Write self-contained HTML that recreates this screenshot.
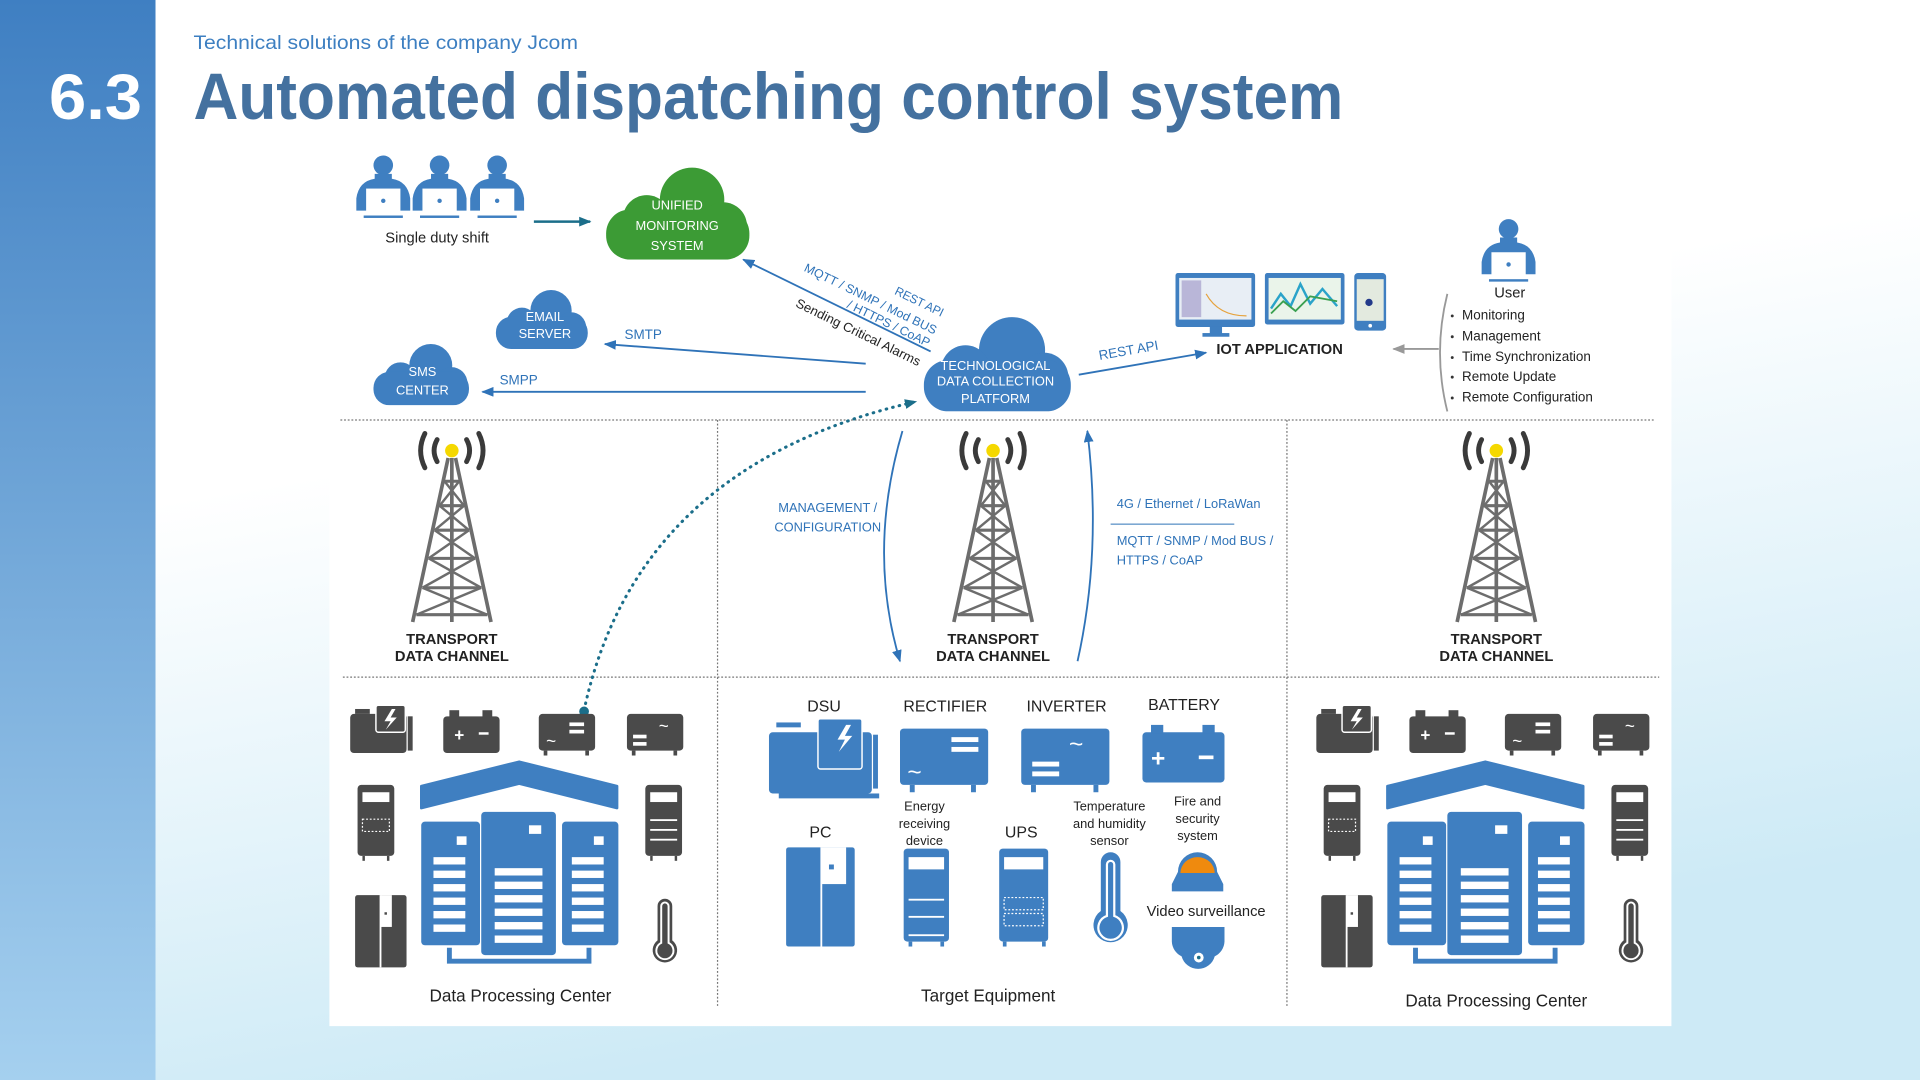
<!DOCTYPE html>
<html><head><meta charset="utf-8"><style>
html,body{margin:0;padding:0;width:1920px;height:1080px;overflow:hidden;background:#fff}
svg{display:block}
text{font-family:"Liberation Sans",sans-serif}
</style></head><body>
<svg width="1920" height="1080" viewBox="0 0 1568 882" xmlns="http://www.w3.org/2000/svg">
<defs>
<linearGradient id="bg" x1="0" y1="0" x2="0.3" y2="1">
<stop offset="0" stop-color="#ffffff"/><stop offset="0.45" stop-color="#ffffff"/><stop offset="1" stop-color="#cdeaf6"/></linearGradient>
<linearGradient id="strip" x1="0" y1="0" x2="0" y2="1">
<stop offset="0" stop-color="#3f7fc2"/><stop offset="1" stop-color="#a5d0ef"/></linearGradient>
<marker id="ab" markerWidth="10" markerHeight="8" refX="9" refY="4" orient="auto" markerUnits="userSpaceOnUse"><path d="M0,0 L10,4 L0,8 Z" fill="#2f73b8"/></marker>
<marker id="at" markerWidth="10" markerHeight="8" refX="9" refY="4" orient="auto" markerUnits="userSpaceOnUse"><path d="M0,0 L10,4 L0,8 Z" fill="#1b6e8a"/></marker>
<marker id="ag" markerWidth="10" markerHeight="8" refX="9" refY="4" orient="auto" markerUnits="userSpaceOnUse"><path d="M0,0 L10,4 L0,8 Z" fill="#999"/></marker>
<symbol id="cloud" viewBox="0 0 120 80">
<circle cx="72" cy="30" r="27"/><circle cx="34" cy="46" r="20"/><circle cx="98" cy="52" r="20"/><rect x="0" y="38" width="120" height="42" rx="20"/>
</symbol>
<g id="tower">
<g stroke="#6d6d6d" stroke-width="3" fill="none">
<path d="M-3,6 L-32,140 M3,6 L32,140 M0,6 L0,140"/>
<path d="M-6,25 L6,25 M-10,45 L10,45 M-14,65 L14,65 M-19,88 L19,88 M-24,112 L24,112 M-29,134 L29,134" stroke-width="2.5"/>
<path d="M-6,25 L10,45 M6,25 L-10,45 M-10,45 L14,65 M10,45 L-14,65 M-14,65 L19,88 M14,65 L-19,88 M-19,88 L24,112 M19,88 L-24,112 M-24,112 L29,134 M24,112 L-29,134" stroke-width="2"/>
</g>
<circle cx="0" cy="0" r="5.5" fill="#f5d800"/>
<g stroke="#3a3a3a" stroke-width="4" fill="none" stroke-linecap="round">
<path d="M-12,-9 Q-17,0 -12,9"/><path d="M-22,-14 Q-29,0 -22,14"/>
<path d="M12,-9 Q17,0 12,9"/><path d="M22,-14 Q29,0 22,14"/>
</g>
</g>
<g id="person">
<circle cx="0" cy="-27" r="8"/><path d="M-7,-20 L7,-20 L7,-16 Q20,-14 22,0 L22,10 L-22,10 L-22,0 Q-20,-14 -7,-16 Z"/>
<rect x="-14" y="-8" width="28" height="20" fill="#fff"/><circle cx="0" cy="2" r="1.8"/>
<rect x="-16" y="14" width="32" height="2"/>
</g>
<g id="dc">
<g fill="#4a4a4a">
<rect x="286" y="583" width="46" height="32" rx="3"/><rect x="333" y="585" width="4" height="28"/><rect x="290" y="579" width="12" height="4"/>
<rect x="307" y="576" width="24" height="22" rx="2" stroke="#fff" stroke-width="1.2"/>
<path d="M320,579 L314,589 L319,589 L315,596 L324,586 L319,586 L323,579 Z" fill="#fff"/>
<rect x="362" y="585" width="46" height="30" rx="3"/><rect x="367" y="580" width="8" height="6"/><rect x="394" y="580" width="8" height="6"/>
<rect x="440" y="583" width="46" height="30" rx="3"/><rect x="444" y="613" width="3" height="4"/><rect x="478" y="613" width="3" height="4"/>
<rect x="512" y="583" width="46" height="30" rx="3"/><rect x="516" y="613" width="3" height="4"/><rect x="550" y="613" width="3" height="4"/>
<rect x="292" y="641" width="30" height="58" rx="3"/><rect x="296" y="699" width="2" height="4"/><rect x="316" y="699" width="2" height="4"/>
<rect x="527" y="641" width="30" height="58" rx="3"/><rect x="531" y="699" width="2" height="4"/><rect x="551" y="699" width="2" height="4"/>
<rect x="290" y="731" width="42" height="59" rx="2"/>
<path d="M537,740 a6,6 0 0 1 12,0 v28 a10,10 0 1 1 -12,0 Z" fill="#4a4a4a"/>
</g>
<g fill="#fff">
<text x="371" y="605" font-size="14" font-weight="bold" fill="#fff">+</text><rect x="391" y="598" width="8" height="2"/>
<rect x="465" y="590" width="12" height="3"/><rect x="465" y="596" width="12" height="3"/>
<text x="446" y="610" font-size="14" fill="#fff">~</text>
<text x="538" y="598" font-size="14" fill="#fff">~</text>
<rect x="517" y="600" width="11" height="3"/><rect x="517" y="606" width="11" height="3"/>
<rect x="296" y="647" width="22" height="8"/><rect x="296" y="669" width="22" height="10" fill="none" stroke="#fff" stroke-width="1" stroke-dasharray="1.5,1.5"/>
<rect x="531" y="647" width="22" height="8"/><rect x="531" y="669" width="22" height="1.5"/><rect x="531" y="677" width="22" height="1.5"/><rect x="531" y="685" width="22" height="1.5"/>
<rect x="310" y="731" width="1.5" height="59"/><rect x="311" y="731" width="9" height="26"/><rect x="314" y="745" width="2" height="2" fill="#4a4a4a"/>
<path d="M540,740 a3,3 0 0 1 6,0 v30 a7,7 0 1 1 -6,0 Z" fill="none" stroke="#fff" stroke-width="1.6"/>
</g>
<g fill="#3f7fc1">
<path d="M344,642 L424,622 L504,642 L504,660 L424,640 L344,660 Z" stroke="#3f7fc1" stroke-width="2" stroke-linejoin="round"/>
<rect x="344" y="671" width="48" height="101" rx="3"/>
<rect x="393" y="663" width="61" height="117" rx="3"/>
<rect x="459" y="671" width="46" height="101" rx="3"/>
<path d="M367,774 V785 H481 V774" fill="none" stroke="#3f7fc1" stroke-width="4"/>
</g>
<g fill="#fff">
<rect x="373" y="683" width="8" height="7"/><rect x="432" y="674" width="10" height="7"/><rect x="485" y="683" width="8" height="7"/>
<rect x="354" y="700" width="26" height="6"/><rect x="354" y="711" width="26" height="6"/><rect x="354" y="722" width="26" height="6"/><rect x="354" y="733" width="26" height="6"/><rect x="354" y="744" width="26" height="6"/><rect x="354" y="755" width="26" height="6"/>
<rect x="404" y="709" width="39" height="6"/><rect x="404" y="720" width="39" height="6"/><rect x="404" y="731" width="39" height="6"/><rect x="404" y="742" width="39" height="6"/><rect x="404" y="753" width="39" height="6"/><rect x="404" y="764" width="39" height="6"/>
<rect x="467" y="700" width="26" height="6"/><rect x="467" y="711" width="26" height="6"/><rect x="467" y="722" width="26" height="6"/><rect x="467" y="733" width="26" height="6"/><rect x="467" y="744" width="26" height="6"/><rect x="467" y="755" width="26" height="6"/>
</g>
</g>
</defs>

<rect width="1568" height="882" fill="url(#bg)"/>
<rect x="0" y="0" width="127" height="882" fill="url(#strip)"/>
<rect x="269" y="115" width="1096" height="723" fill="#fff"/>

<text x="158" y="40" font-size="16" fill="#3d7fc1" textLength="314" lengthAdjust="spacingAndGlyphs">Technical solutions of the company Jcom</text>
<text x="40" y="97" font-size="52" font-weight="bold" fill="#fff" textLength="76" lengthAdjust="spacingAndGlyphs">6.3</text>
<text x="158" y="97" font-size="54" font-weight="bold" fill="#44719f" textLength="939" lengthAdjust="spacingAndGlyphs">Automated dispatching control system</text>

<g stroke="#777" stroke-width="1" stroke-dasharray="1.5,1.5" fill="none">
<line x1="278" y1="343" x2="1352" y2="343"/><line x1="280" y1="553" x2="1355" y2="553"/>
<line x1="586" y1="343" x2="586" y2="823"/><line x1="1051" y1="343" x2="1051" y2="823"/>
</g>

<g fill="#3f7fc1"><use href="#person" x="313" y="162"/><use href="#person" x="359" y="162"/><use href="#person" x="406" y="162"/></g>
<text x="357" y="198" font-size="12" text-anchor="middle" fill="#222">Single duty shift</text>
<line x1="436" y1="181" x2="482" y2="181" stroke="#1b6e8a" stroke-width="2" marker-end="url(#at)"/>

<use href="#cloud" x="492" y="134" width="123" height="78" fill="#3c9b35"/>
<g fill="#fff" font-size="10.5" text-anchor="middle"><text x="553" y="171">UNIFIED</text><text x="553" y="188">MONITORING</text><text x="553" y="204">SYSTEM</text></g>
<use href="#cloud" x="400" y="235" width="85" height="50" fill="#3f7fc1"/>
<g fill="#fff" font-size="10.5" text-anchor="middle"><text x="445" y="262">EMAIL</text><text x="445" y="276">SERVER</text></g>
<use href="#cloud" x="302" y="279" width="84" height="52" fill="#3f7fc1"/>
<g fill="#fff" font-size="10.5" text-anchor="middle"><text x="345" y="307">SMS</text><text x="345" y="322">CENTER</text></g>
<use href="#cloud" x="751" y="256" width="127" height="80" fill="#3f7fc1"/>
<g fill="#fff" font-size="10.5" text-anchor="middle"><text x="813" y="302">TECHNOLOGICAL</text><text x="813" y="315">DATA COLLECTION</text><text x="813" y="329">PLATFORM</text></g>

<g stroke="#2f73b8" stroke-width="1.5" fill="none">
<line x1="760" y1="287" x2="607" y2="212" marker-end="url(#ab)"/>
<line x1="707" y1="297" x2="494" y2="281" marker-end="url(#ab)"/>
<line x1="707" y1="320" x2="394" y2="320" marker-end="url(#ab)"/>
<line x1="881" y1="306" x2="985" y2="288" marker-end="url(#ab)"/>
<path d="M737,352 Q708,450 735,540" marker-end="url(#ab)"/>
<path d="M880,540 Q900,450 888,352" marker-end="url(#ab)"/>
</g>
<path d="M477,580 Q520,380 748,328" stroke="#1b6e8a" stroke-width="2.5" stroke-dasharray="0.5,5" stroke-linecap="round" fill="none" marker-end="url(#at)"/>
<circle cx="477" cy="581" r="4" fill="#1b6e8a"/>
<line x1="1175" y1="285" x2="1138" y2="285" stroke="#999" stroke-width="1.5" marker-end="url(#ag)"/>
<path d="M1182,240 Q1170,288 1182,336" stroke="#999" stroke-width="1.5" fill="none"/>

<g fill="#2f73b8" font-size="11">
<text x="510" y="277">SMTP</text><text x="408" y="314">SMPP</text>
<text x="898" y="294" transform="rotate(-10 898 294)">REST API</text>
<text x="656" y="221" font-size="10" transform="rotate(26 656 221)" textLength="119" lengthAdjust="spacingAndGlyphs">MQTT / SNMP / Mod BUS</text>
<text x="691" y="251" font-size="10" transform="rotate(26 691 251)" textLength="74" lengthAdjust="spacingAndGlyphs">/ HTTPS / CoAP</text>
<text x="730" y="240" font-size="10" transform="rotate(26 730 240)" textLength="43" lengthAdjust="spacingAndGlyphs">REST API</text>
<text x="676" y="418" text-anchor="middle" font-size="10.5">MANAGEMENT /</text>
<text x="676" y="434" text-anchor="middle" font-size="10.5">CONFIGURATION</text>
<text x="912" y="415" font-size="10.5">4G / Ethernet / LoRaWan</text>
<text x="912" y="445" font-size="10.5">MQTT / SNMP / Mod BUS /</text>
<text x="912" y="461" font-size="10.5">HTTPS / CoAP</text>
</g>
<line x1="907" y1="428" x2="1008" y2="428" stroke="#2f73b8" stroke-width="0.8"/>
<text x="649" y="250" font-size="10.5" fill="#222" transform="rotate(26 649 250)" textLength="112" lengthAdjust="spacingAndGlyphs">Sending Critical Alarms</text>

<rect x="960" y="223" width="65" height="44" rx="2" fill="#3f7fc1"/><rect x="963" y="227" width="59" height="34" fill="#e8eef5"/>
<rect x="988" y="267" width="10" height="6" fill="#3f7fc1"/><rect x="982" y="272" width="22" height="3" fill="#3f7fc1"/>
<rect x="965" y="229" width="16" height="30" fill="#b9b6d8"/><path d="M985,240 Q995,258 1018,258" stroke="#e6a23c" fill="none"/>
<rect x="1033" y="223" width="65" height="42" rx="2" fill="#3f7fc1"/><rect x="1036" y="227" width="59" height="34" fill="#eaf4ea"/>
<path d="M1038,252 L1046,240 L1054,250 L1062,232 L1070,248 L1080,236 L1092,250" stroke="#2aa3c9" stroke-width="2" fill="none"/>
<path d="M1038,256 L1048,246 L1058,254 L1070,242 L1092,246" stroke="#3aa050" stroke-width="1.5" fill="none"/>
<rect x="1106" y="223" width="26" height="47" rx="3" fill="#3f7fc1"/><rect x="1108" y="228" width="22" height="34" fill="#e3eadf"/><circle cx="1119" cy="266" r="1.5" fill="#fff"/>
<circle cx="1118" cy="247" r="3" fill="#233a8a"/>
<text x="1045" y="289" font-size="12" font-weight="bold" text-anchor="middle" fill="#222">IOT APPLICATION</text>
<g fill="#3f7fc1"><use href="#person" x="1232" y="214"/></g>
<text x="1233" y="243" font-size="12" text-anchor="middle" fill="#222">User</text>
<g font-size="11" fill="#222"><text x="1194" y="261">Monitoring</text><text x="1194" y="278">Management</text><text x="1194" y="295">Time Synchronization</text><text x="1194" y="311">Remote Update</text><text x="1194" y="328">Remote Configuration</text></g>
<g fill="#333"><circle cx="1186" cy="258" r="1.2"/><circle cx="1186" cy="275" r="1.2"/><circle cx="1186" cy="292" r="1.2"/><circle cx="1186" cy="308" r="1.2"/><circle cx="1186" cy="325" r="1.2"/></g>

<use href="#tower" x="369" y="368"/><use href="#tower" x="811" y="368"/><use href="#tower" x="1222" y="368"/>
<g font-size="12" font-weight="bold" fill="#222" text-anchor="middle">
<text x="369" y="526">TRANSPORT</text><text x="369" y="540">DATA CHANNEL</text>
<text x="811" y="526">TRANSPORT</text><text x="811" y="540">DATA CHANNEL</text>
<text x="1222" y="526">TRANSPORT</text><text x="1222" y="540">DATA CHANNEL</text>
</g>

<use href="#dc"/>
<use href="#dc" x="789"/>
<text x="425" y="818" font-size="14" text-anchor="middle" fill="#222">Data Processing Center</text>
<text x="1222" y="822" font-size="14" text-anchor="middle" fill="#222">Data Processing Center</text>

<g fill="#3f7fc1">
<rect x="628" y="598" width="84" height="50" rx="3"/><rect x="713" y="600" width="4" height="44"/><rect x="634" y="590" width="20" height="4"/><rect x="636" y="648" width="82" height="4"/>
<rect x="668" y="587" width="36" height="41" rx="2" stroke="#fff" stroke-width="1.2"/>
<rect x="735" y="595" width="72" height="46" rx="3"/><rect x="743" y="641" width="4" height="6"/><rect x="793" y="641" width="4" height="6"/>
<rect x="834" y="595" width="72" height="46" rx="3"/><rect x="842" y="641" width="4" height="6"/><rect x="893" y="641" width="4" height="6"/>
<rect x="933" y="598" width="67" height="41" rx="3"/><rect x="940" y="592" width="10" height="7"/><rect x="982" y="592" width="10" height="7"/>
<rect x="642" y="692" width="56" height="81" rx="2"/>
<rect x="738" y="693" width="37" height="76" rx="3"/><rect x="742" y="769" width="3" height="4"/><rect x="768" y="769" width="3" height="4"/>
<rect x="816" y="693" width="40" height="76" rx="3"/><rect x="819" y="769" width="3" height="4"/><rect x="851" y="769" width="3" height="4"/>
<path d="M899,704 a8,8 0 0 1 16,0 v40 a14,14 0 1 1 -16,0 Z"/>
<path d="M962,712 a16,16 0 0 1 32,0 l5,10 v6 h-42 v-6 Z"/>
<path d="M957,757 h43 v12 a14,14 0 0 1 -8,12 a14,14 0 0 1 -27,0 a14,14 0 0 1 -8,-12 Z"/>
</g>
<path d="M964,713 a14,13 0 0 1 28,0 Z" fill="#ef8a0e"/>
<circle cx="979" cy="782" r="4" fill="#fff"/><circle cx="979" cy="782" r="1.5" fill="#1b6e8a"/>
<g fill="#fff">
<path d="M691,592 L684,604 L690,604 L685,614 L696,601 L690,601 L695,592 Z"/>
<rect x="777" y="602" width="22" height="4"/><rect x="777" y="610" width="22" height="4"/>
<text x="741" y="637" font-size="20" fill="#fff">~</text>
<text x="873" y="614" font-size="20" fill="#fff">~</text>
<rect x="843" y="622" width="22" height="4"/><rect x="843" y="630" width="22" height="4"/>
<text x="940" y="626" font-size="20" font-weight="bold" fill="#fff">+</text><rect x="979" y="617" width="12" height="3"/>
<rect x="670" y="692" width="1.5" height="81"/><rect x="671" y="692" width="20" height="30"/><rect x="677" y="706" width="4" height="4" fill="#3f7fc1"/>
<rect x="742" y="700" width="29" height="10"/><rect x="742" y="734" width="29" height="1.5"/><rect x="742" y="748" width="29" height="1.5"/><rect x="742" y="763" width="29" height="1.5"/>
<rect x="820" y="700" width="32" height="10"/>
<rect x="820" y="733" width="32" height="10" fill="none" stroke="#fff" stroke-width="1" stroke-dasharray="1.5,1.5"/>
<rect x="820" y="746" width="32" height="10" fill="none" stroke="#fff" stroke-width="1" stroke-dasharray="1.5,1.5"/>
<path d="M904,706 a3,3 0 0 1 6,0 v42 a10,10 0 1 1 -6,0 Z" fill="none" stroke="#fff" stroke-width="1.8"/>
</g>
<g font-size="13" fill="#222" text-anchor="middle">
<text x="673" y="581">DSU</text><text x="772" y="581">RECTIFIER</text><text x="871" y="581">INVERTER</text><text x="967" y="580">BATTERY</text>
<text x="670" y="684">PC</text><text x="834" y="684">UPS</text>
</g>
<g font-size="10.5" fill="#222" text-anchor="middle">
<text x="755" y="662">Energy</text><text x="755" y="676">receiving</text><text x="755" y="690">device</text>
<text x="906" y="662">Temperature</text><text x="906" y="676">and humidity</text><text x="906" y="690">sensor</text>
<text x="978" y="658">Fire and</text><text x="978" y="672">security</text><text x="978" y="686">system</text>
<text x="985" y="748" font-size="12">Video surveillance</text>
</g>
<text x="807" y="818" font-size="14" text-anchor="middle" fill="#222">Target Equipment</text>
</svg>
</body></html>
